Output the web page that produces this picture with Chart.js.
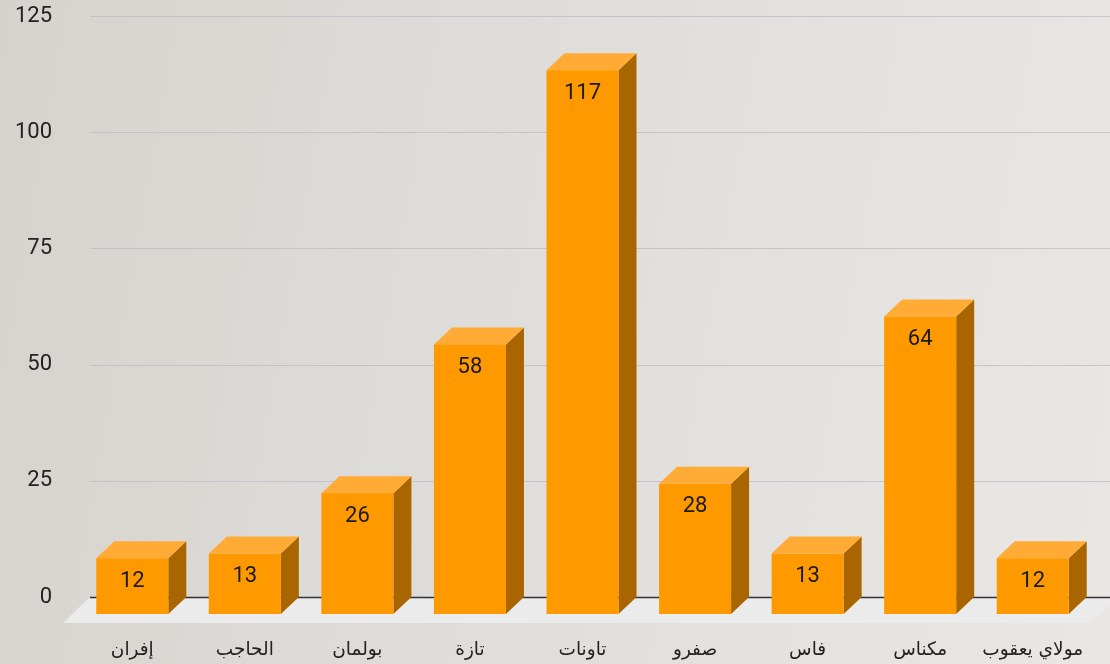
<!DOCTYPE html>
<html>
<head>
<meta charset="utf-8">
<script src="https://cdn.jsdelivr.net/npm/chart.js@4"></script>
<style>
  html, body { margin: 0; padding: 0; }
  body { width: 1110px; height: 664px; background: linear-gradient(100deg, #d6d3ce 0%, #e0dedb 50%, #e9e7e4 100%); }
  canvas { display: block; }
</style>
</head>
<body>
<canvas id="chart" width="1110" height="664"></canvas>
<script>
// بيانات المدن
const cities = ['إفران', 'الحاجب', 'بولمان', 'تازة', 'تاونات', 'صفرو', 'فاس', 'مكناس', 'مولاي يعقوب'];
const values = [12, 13, 26, 58, 117, 28, 13, 64, 12];
const yTicks = [0, 25, 50, 75, 100, 125];

// عمق المكعبات
const depthX = 18;
const depthY = 17;

const bars3d = {
    id: 'bars3d',
    beforeDatasetsDraw(chart) {
        const ctx = chart.ctx;
        const area = chart.chartArea;
        const yScale = chart.scales.y;
        const base = yScale.getPixelForValue(0);
        ctx.save();
        // الأرضية
        ctx.fillStyle = '#ebebeb';
        ctx.beginPath();
        ctx.moveTo(area.left - 4, base);
        ctx.lineTo(chart.width + 10, base);
        ctx.lineTo(area.right - 17, base + 26);
        ctx.lineTo(area.left - 31, base + 26);
        ctx.closePath();
        ctx.fill();
        // خطوط الشبكة
        yTicks.forEach(v => {
            const y = Math.round(yScale.getPixelForValue(v)) + 0.5;
            ctx.beginPath();
            ctx.moveTo(area.left - 4, y);
            ctx.lineTo(chart.width, y);
            if (v === 0) {
                ctx.strokeStyle = '#333333';
                ctx.lineWidth = 1.5;
            } else {
                ctx.strokeStyle = 'rgba(185,188,196,0.75)';
                ctx.lineWidth = 1;
            }
            ctx.stroke();
        });
        ctx.restore();
    },
    afterDatasetsDraw(chart) {
        const ctx = chart.ctx;
        const meta = chart.getDatasetMeta(0);
        ctx.save();
        meta.data.forEach((bar, i) => {
            const half = bar.width / 2;
            const bx0 = bar.x - half, bx1 = bar.x + half;
            const fx0 = bx0 - depthX, fx1 = bx1 - depthX;
            const top = bar.y, bottom = bar.base;
            const ftop = top + depthY, fbottom = bottom + depthY;
            // الوجه الجانبي
            ctx.fillStyle = '#a96600';
            ctx.beginPath();
            ctx.moveTo(fx1, ftop);
            ctx.lineTo(bx1, top);
            ctx.lineTo(bx1, bottom);
            ctx.lineTo(fx1, fbottom);
            ctx.closePath();
            ctx.fill();
            // الوجه العلوي
            ctx.fillStyle = '#ffab35';
            ctx.beginPath();
            ctx.moveTo(fx0, ftop);
            ctx.lineTo(bx0, top);
            ctx.lineTo(bx1, top);
            ctx.lineTo(fx1, ftop);
            ctx.closePath();
            ctx.fill();
            // الوجه الأمامي
            ctx.fillStyle = '#ff9900';
            ctx.fillRect(fx0, ftop, fx1 - fx0, fbottom - ftop);
            // القيمة
            ctx.fillStyle = '#1a1a1a';
            ctx.font = '22px Roboto, "Noto Sans", sans-serif';
            ctx.textAlign = 'center';
            ctx.textBaseline = 'middle';
            ctx.fillText(String(values[i]), (fx0 + fx1) / 2, ftop + 23);
        });
        ctx.restore();
    }
};

new Chart(document.getElementById('chart'), {
    type: 'bar',
    data: {
        labels: cities,
        datasets: [{
            data: values,
            backgroundColor: 'rgba(0,0,0,0)',
            borderWidth: 0,
            barPercentage: 0.64,
            categoryPercentage: 1
        }]
    },
    options: {
        responsive: false,
        animation: false,
        layout: { padding: { top: 16, right: 3, left: 0, bottom: 0 } },
        plugins: {
            legend: { display: false },
            tooltip: { enabled: false }
        },
        scales: {
            x: {
                grid: { display: false, drawTicks: false },
                border: { display: false },
                ticks: {
                    labelOffset: -depthX,
                    padding: 42,
                    color: '#222222',
                    font: { family: '"DejaVu Sans", sans-serif', size: 18.5 },
                    maxRotation: 0
                },
                afterFit(scale) {
                    scale.height = 67;
                    scale.paddingLeft = 0;
                    scale.paddingRight = 0;
                }
            },
            y: {
                min: 0,
                max: 125,
                afterBuildTicks(scale) { scale.ticks = yTicks.map(v => ({ value: v })); },
                grid: { display: false, drawTicks: false },
                border: { display: false },
                ticks: {
                    padding: 42,
                    color: '#222222',
                    font: { family: 'Roboto, "Noto Sans", sans-serif', size: 22 }
                },
                afterFit(scale) {
                    scale.width = 94;
                    scale.paddingTop = 0;
                    scale.paddingBottom = 0;
                }
            }
        }
    },
    plugins: [bars3d]
});
</script>
</body>
</html>
